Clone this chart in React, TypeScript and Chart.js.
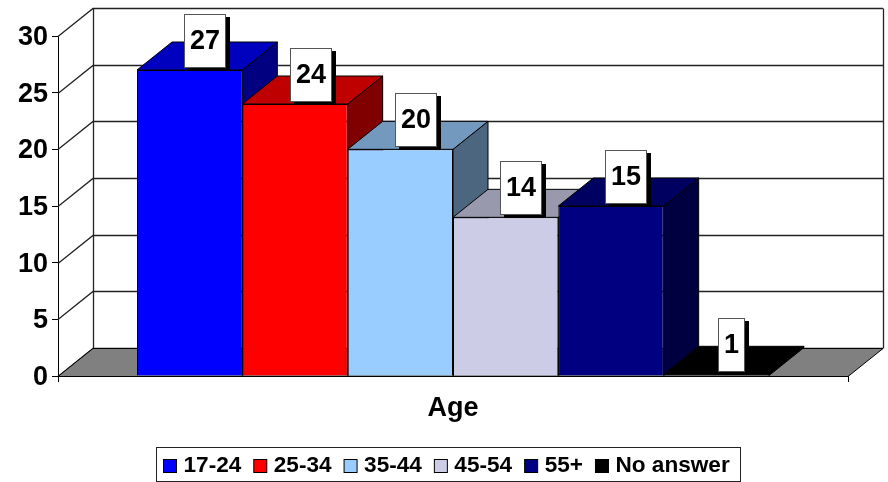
import React, { useEffect, useRef } from "react";
import { Chart, registerables } from "chart.js";

Chart.register(...registerables);

const categories = ["Age"];
const seriesNames = ["17-24", "25-34", "35-44", "45-54", "55+", "No answer"];
// Heights as drawn in the picture; the "No answer" bar is nearly flat although labelled 1.
const seriesValues = [27, 24, 20, 14, 15, 0.15];
const valueLabels = ["27", "24", "20", "14", "15", "1"];
const frontColors = ["#0000FF", "#FF0000", "#99CCFF", "#CCCCE6", "#000080", "#000000"];
const topColors = ["#0000BF", "#BF0000", "#7399BF", "#9999AD", "#000060", "#000000"];
const sideColors = ["#000080", "#800000", "#4D6680", "#666673", "#000040", "#000000"];

const DX = 35;
const DY = -28;
const FONT = "'Liberation Sans', Arial, sans-serif";

const poly = (ctx: CanvasRenderingContext2D, pts: number[][], fill?: string) => {
  ctx.beginPath();
  pts.forEach((p, i) => (i ? ctx.lineTo(p[0], p[1]) : ctx.moveTo(p[0], p[1])));
  ctx.closePath();
  if (fill) {
    ctx.fillStyle = fill;
    ctx.fill();
  }
  ctx.strokeStyle = "#000";
  ctx.lineWidth = 1;
  ctx.stroke();
};

const walls3d = {
  id: "walls3d",
  beforeDatasetsDraw(chart: any) {
    const { ctx, chartArea: a, scales } = chart;
    const y = scales.y;
    ctx.save();
    ctx.strokeStyle = "#222";
    ctx.lineWidth = 1.3;
    ctx.beginPath();
    for (const v of y.ticks.map((t: any) => t.value)) {
      const py = Math.round(y.getPixelForValue(v)) + 0.5;
      ctx.moveTo(a.left, py);
      ctx.lineTo(a.left + DX, py + DY);
      ctx.lineTo(a.right + DX, py + DY);
    }
    const top = Math.round(a.top) + 0.5 + DY;
    const bot = Math.round(a.bottom) + 0.5 + DY;
    ctx.moveTo(a.left + DX + 0.5, top);
    ctx.lineTo(a.left + DX + 0.5, bot);
    ctx.moveTo(a.right + DX + 0.5, top);
    ctx.lineTo(a.right + DX + 0.5, bot);
    ctx.stroke();
    const b = Math.round(a.bottom) + 0.5;
    poly(
      ctx,
      [
        [a.left, b],
        [a.left + DX, b + DY],
        [a.right + DX, b + DY],
        [a.right, b],
      ],
      "#808080"
    );
    // Paint the bars left to right so each bar's front covers its left neighbour's side.
    seriesNames.forEach((_, i) => {
      const el = chart.getDatasetMeta(i).data[0];
      const l = el.x - el.width / 2;
      const r = el.x + el.width / 2;
      const t = el.y;
      const bs = el.base;
      poly(
        ctx,
        [
          [r, t],
          [r + DX, t + DY],
          [r + DX, bs + DY],
          [r, bs],
        ],
        sideColors[i]
      );
      poly(
        ctx,
        [
          [l, t],
          [l + DX, t + DY],
          [r + DX, t + DY],
          [r, t],
        ],
        topColors[i]
      );
      el.draw(ctx, a);
    });
    ctx.restore();
  },
  beforeDatasetDraw() {
    return false;
  },
  afterDatasetsDraw(chart: any) {
    const { ctx } = chart;
    ctx.save();
    ctx.font = `bold 27px ${FONT}`;
    ctx.textAlign = "center";
    ctx.textBaseline = "middle";
    valueLabels.forEach((txt, i) => {
      const el = chart.getDatasetMeta(i).data[0];
      const w = Math.round(ctx.measureText(txt).width + 12);
      const h = 54;
      const cx = el.x + 15.5;
      const x = Math.round(cx - w / 2);
      const y = Math.round(el.y - 2 - h);
      ctx.fillStyle = "#000";
      ctx.fillRect(x + 4, y + 3, w, h);
      ctx.fillStyle = "#fff";
      ctx.fillRect(x, y, w, h);
      ctx.strokeStyle = "#555";
      ctx.lineWidth = 1;
      ctx.strokeRect(x + 0.5, y + 0.5, w - 1, h - 1);
      ctx.fillStyle = "#000";
      ctx.fillText(txt, x + w / 2, y + h / 2 + 1);
    });
    ctx.restore();
  },
  afterDraw(chart: any) {
    const { ctx } = chart;
    ctx.save();
    ctx.strokeStyle = "#222";
    ctx.lineWidth = 1;
    ctx.strokeRect(156.5, 447.5, 584, 34);
    ctx.font = `bold 22.6px ${FONT}`;
    ctx.textAlign = "left";
    ctx.textBaseline = "middle";
    let x = 163.5;
    seriesNames.forEach((name, i) => {
      ctx.fillStyle = frontColors[i];
      ctx.fillRect(x, 459.5, 13, 13);
      ctx.strokeStyle = "#000";
      ctx.strokeRect(x, 459.5, 13, 13);
      ctx.fillStyle = "#000";
      ctx.fillText(name, x + 20, 466);
      x += 20 + ctx.measureText(name).width + 12.5;
    });
    ctx.restore();
  },
};

export default function App() {
  const ref = useRef<HTMLCanvasElement | null>(null);
  useEffect(() => {
    if (!ref.current) return;
    const chart = new Chart(ref.current, {
      type: "bar",
      data: {
        labels: categories,
        datasets: seriesNames.map((name, i) => ({
          label: name,
          data: [seriesValues[i]],
          backgroundColor: frontColors[i],
          borderColor: "#000",
          borderWidth: 1,
          categoryPercentage: 0.8,
          barPercentage: 1,
        })),
      },
      options: {
        responsive: false,
        animation: false,
        layout: { padding: { left: 0, right: 40, top: 36, bottom: 0 } },
        plugins: { legend: { display: false }, tooltip: { enabled: false } },
        scales: {
          x: {
            grid: { offset: true, drawOnChartArea: false, drawTicks: true, tickLength: 6, color: "#000" },
            border: { display: true, color: "#000" },
            ticks: { color: "#000", padding: 10, font: { family: FONT, size: 27, weight: "bold" } },
            afterFit: (s: any) => {
              s.height = 106;
            },
          },
          y: {
            min: 0,
            max: 30,
            grid: { drawOnChartArea: false, drawTicks: true, tickLength: 6, color: "#000" },
            border: { display: true, color: "#000" },
            ticks: { stepSize: 5, color: "#000", padding: 4, font: { family: FONT, size: 27, weight: "bold" } },
            afterFit: (s: any) => {
              s.width = 58;
              if (!s._nudged) {
                s._nudged = true;
                const compute = s._computeLabelItems;
                s._computeLabelItems = function (area: any) {
                  const items = compute.call(s, area);
                  items.forEach((it: any) => {
                    it.textOffset += 1.5;
                  });
                  return items;
                };
              }
            },
          },
        },
      } as any,
      plugins: [walls3d as any],
    });
    return () => chart.destroy();
  }, []);
  return (
    <div style={{ position: "fixed", left: 0, top: 0, width: 888, height: 482, background: "#fff" }}>
      <canvas ref={ref} width={888} height={482} style={{ display: "block" }} />
    </div>
  );
}
